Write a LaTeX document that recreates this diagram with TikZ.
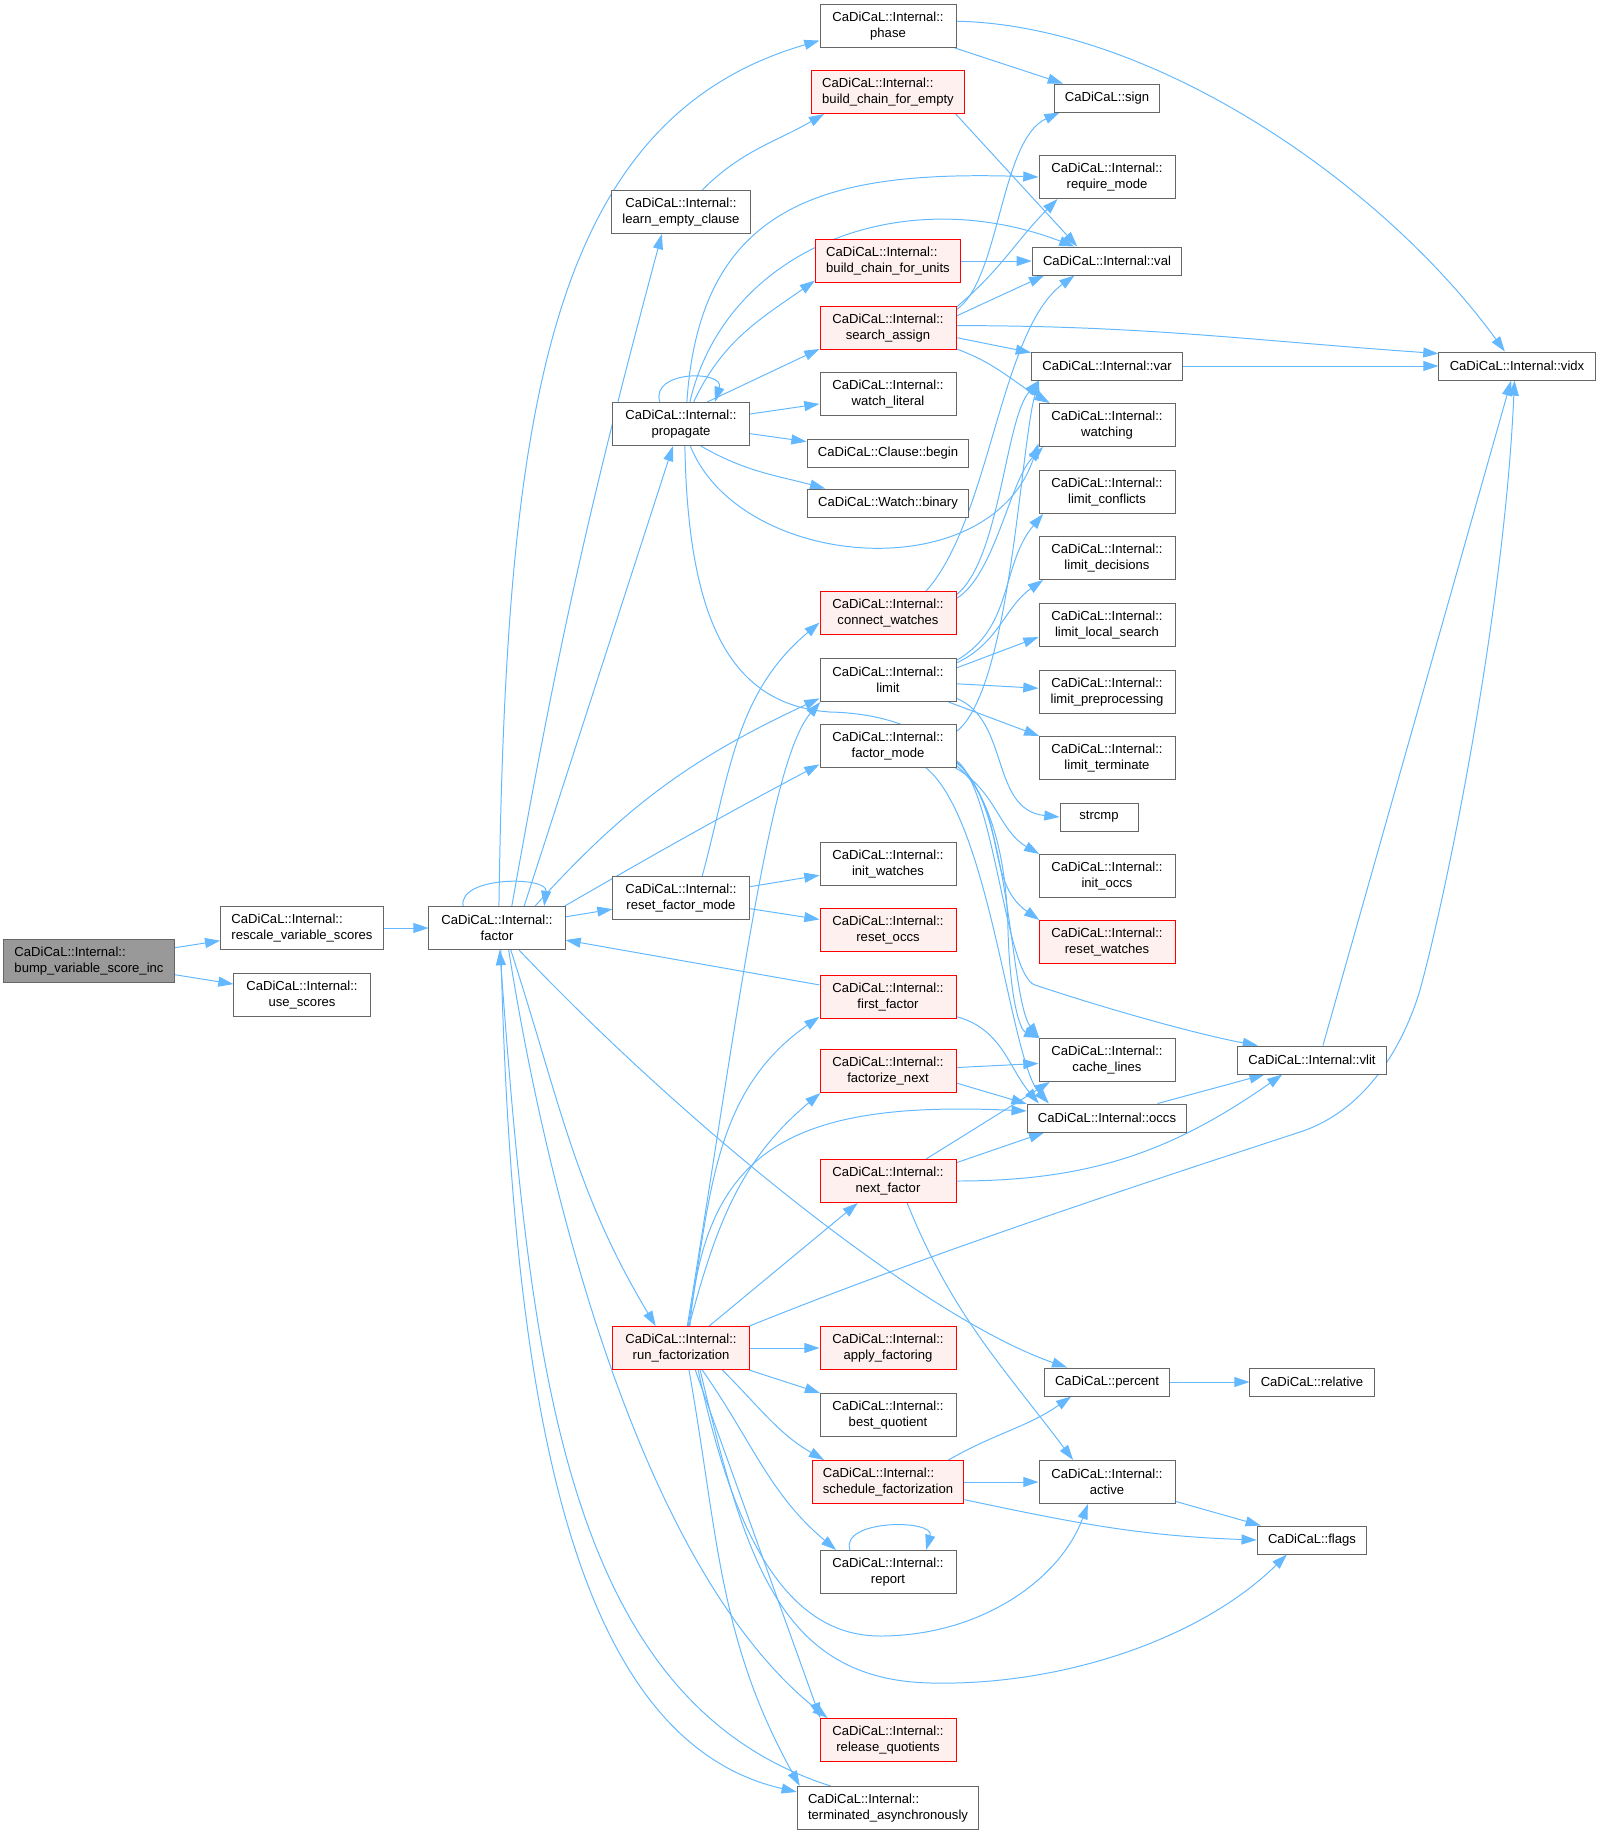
\documentclass[tikz,border=0pt]{standalone}
\usepackage{fontspec}
\setmainfont{Liberation Sans}
\usetikzlibrary{arrows.meta, backgrounds}
\definecolor{edgeBlue}{HTML}{63B8FF}
\definecolor{nodeGrey}{HTML}{666666}
\definecolor{nodeRed}{HTML}{FF0000}
\definecolor{nodeRedSoft}{HTML}{FFF0F0}
\definecolor{rootGrey}{HTML}{999999}

\begin{document}
\begin{tikzpicture}[
    x=0.025cm, y=0.025cm,
    fnBox/.style={draw=nodeGrey, line width=0.7pt, fill=white, rectangle, align=center, minimum width=3.4cm, minimum height=1.075cm, inner xsep=0.27cm, inner ysep=1pt, font=\fontsize{9.3}{11.4}\selectfont},
    fnLeft/.style={fnBox, align=left},
    fnRed/.style={fnBox, draw=nodeRed, fill=nodeRedSoft},
    fnRedLeft/.style={fnRed, align=left},
    fnOne/.style={fnBox, minimum width=0pt, minimum height=0.7cm},
    >={Triangle[length=0.38cm, width=0.25cm]},
    call/.style={draw=edgeBlue, line width=0.7pt, ->},
]
\useasboundingbox (0,0) rectangle (1600,-1835);
\node[fnLeft, fill=rootGrey] (bump)    at (89,-961)   {CaDiCaL::Internal::\\bump\_variable\_score\_inc};
\node[fnLeft]    (rescale)   at (302,-928)  {CaDiCaL::Internal::\\rescale\_variable\_scores};
\node[fnBox]     (usescores) at (302,-995)  {CaDiCaL::Internal::\\use\_scores};
\node[fnBox]     (factor)    at (497,-928)  {CaDiCaL::Internal::\\factor};
\node[fnBox]     (phase)     at (888,-26)   {CaDiCaL::Internal::\\phase};
\node[fnRedLeft] (bcfe)      at (888,-92)   {CaDiCaL::Internal::\\build\_chain\_for\_empty};
\node[fnBox]     (learn)     at (681,-212)  {CaDiCaL::Internal::\\learn\_empty\_clause};
\node[fnOne]     (sign)      at (1107,-98)  {CaDiCaL::sign};
\node[fnBox]     (reqmode)   at (1107,-177) {CaDiCaL::Internal::\\require\_mode};
\node[fnOne]     (val)       at (1107,-261) {CaDiCaL::Internal::val};
\node[fnRedLeft] (bcfu)      at (888,-261)  {CaDiCaL::Internal::\\build\_chain\_for\_units};
\node[fnRed]     (sassign)   at (888,-328)  {CaDiCaL::Internal::\\search\_assign};
\node[fnOne]     (vidx)      at (1517,-366) {CaDiCaL::Internal::vidx};
\node[fnOne]     (var)       at (1107,-366) {CaDiCaL::Internal::var};
\node[fnBox]     (propagate) at (681,-424)  {CaDiCaL::Internal::\\propagate};
\node[fnBox]     (watchlit)  at (888,-394)  {CaDiCaL::Internal::\\watch\_literal};
\node[fnBox]     (watching)  at (1107,-425) {CaDiCaL::Internal::\\watching};
\node[fnOne]     (clbegin)   at (888,-453)  {CaDiCaL::Clause::begin};
\node[fnOne]     (wbinary)   at (888,-503)  {CaDiCaL::Watch::binary};
\node[fnBox]     (limconf)   at (1107,-492) {CaDiCaL::Internal::\\limit\_conflicts};
\node[fnBox]     (limdec)    at (1107,-558) {CaDiCaL::Internal::\\limit\_decisions};
\node[fnRed]     (connw)     at (888,-613)  {CaDiCaL::Internal::\\connect\_watches};
\node[fnBox]     (limls)     at (1107,-625) {CaDiCaL::Internal::\\limit\_local\_search};
\node[fnBox]     (limit)     at (888,-680)  {CaDiCaL::Internal::\\limit};
\node[fnBox]     (limpre)    at (1107,-692) {CaDiCaL::Internal::\\limit\_preprocessing};
\node[fnBox]     (factmode)  at (888,-746)  {CaDiCaL::Internal::\\factor\_mode};
\node[fnBox]     (limterm)   at (1107,-758) {CaDiCaL::Internal::\\limit\_terminate};
\node[fnOne, minimum width=1.95cm] (strcmp) at (1099,-817) {strcmp};
\node[fnBox]     (initw)     at (888,-864)  {CaDiCaL::Internal::\\init\_watches};
\node[fnBox]     (initoccs)  at (1107,-876) {CaDiCaL::Internal::\\init\_occs};
\node[fnBox]     (resetfm)   at (681,-898)  {CaDiCaL::Internal::\\reset\_factor\_mode};
\node[fnRed]     (resetoccs) at (888,-930)  {CaDiCaL::Internal::\\reset\_occs};
\node[fnRed]     (resetw)    at (1107,-942) {CaDiCaL::Internal::\\reset\_watches};
\node[fnRed]     (firstf)    at (888,-997)  {CaDiCaL::Internal::\\first\_factor};
\node[fnBox]     (cachel)    at (1107,-1060) {CaDiCaL::Internal::\\cache\_lines};
\node[fnOne]     (vlit)      at (1312,-1060) {CaDiCaL::Internal::vlit};
\node[fnRed]     (factnext)  at (888,-1071) {CaDiCaL::Internal::\\factorize\_next};
\node[fnOne]     (occs)      at (1107,-1118) {CaDiCaL::Internal::occs};
\node[fnRed]     (nextf)     at (888,-1181) {CaDiCaL::Internal::\\next\_factor};
\node[fnRed]     (runfact)   at (681,-1348) {CaDiCaL::Internal::\\run\_factorization};
\node[fnRed]     (applyf)    at (888,-1348) {CaDiCaL::Internal::\\apply\_factoring};
\node[fnOne]     (percent)   at (1107,-1382) {CaDiCaL::percent};
\node[fnOne]     (relative)  at (1312,-1382) {CaDiCaL::relative};
\node[fnBox]     (bestq)     at (888,-1415) {CaDiCaL::Internal::\\best\_quotient};
\node[fnRedLeft] (schedf)    at (888,-1482) {CaDiCaL::Internal::\\schedule\_factorization};
\node[fnBox]     (active)    at (1107,-1482) {CaDiCaL::Internal::\\active};
\node[fnOne]     (flags)     at (1312,-1540) {CaDiCaL::flags};
\node[fnBox]     (report)    at (888,-1572) {CaDiCaL::Internal::\\report};
\node[fnRed]     (releaseq)  at (888,-1740) {CaDiCaL::Internal::\\release\_quotients};
\node[fnLeft]    (termasync) at (888,-1808) {CaDiCaL::Internal::\\terminated\_asynchronously};
\begin{scope}[on background layer]
\draw[call] (bump) -- (rescale);
\draw[call] (bump) -- (usescores);
\draw[call] (rescale) -- (factor);
\draw[call] (factor.147) .. controls (458,-876) and (548,-876) .. (factor.25);
\draw[call] (factor.85) .. controls (506,-420) and (545,-120) .. (phase.192);
\draw[call] (factor.56) to[out=80,in=-105] (learn.229);
\draw[call] (factor.39) -- (propagate.250);
\draw[call] (factor.30) to[out=48,in=205] (limit.195);
\draw[call] (factor.18) to[out=30,in=208] (factmode.195);
\draw[call] (factor) -- (resetfm);
\draw[call] (factor.-45) .. controls (700,-1140) and (930,-1320) .. (percent.160);
\draw[call] (factor.-58) to[out=-72,in=121] (runfact.139);
\draw[call] (factor.-62) .. controls (540,-1150) and (630,-1560) .. (releaseq.160);
\draw[call] (factor.-80) .. controls (512,-1400) and (570,-1740) .. (termasync.170);
\draw[call] (termasync.159) .. controls (560,-1700) and (530,-1350) .. (factor.-83);
\draw[call] (firstf) -- (factor);
\draw[call] (propagate.134) .. controls (650,-370) and (725,-370) .. (propagate.33);
\draw[call] (propagate.40) -- (sassign.197);
\draw[call] (propagate.60) to[out=65,in=215] (bcfu.195);
\draw[call] (propagate.75) .. controls (700,-200) and (830,-170) .. (reqmode.west);
\draw[call] (propagate.68) .. controls (725,-250) and (900,-180) .. (val.156);
\draw[call] (propagate) -- (watchlit);
\draw[call] (propagate) -- (clbegin);
\draw[call] (propagate.-48) to[out=-30,in=165] (wbinary.167);
\draw[call] (propagate.-67) .. controls (740,-570) and (990,-590) .. (watching.195);
\draw[call] (propagate.-80) .. controls (688,-620) and (730,-705) .. (830,-712)
    .. controls (960,-715) and (1005,-800) .. (1008,-930)
    .. controls (1010,-1000) and (1020,-1030) .. (cachel.162);
\draw[call] (sassign.15) .. controls (1000,-280) and (1000,-140) .. (sign.197);
\draw[call] (sassign.17) to[out=40,in=225] (reqmode.204);
\draw[call] (sassign.10) -- (val.193);
\draw[call] (sassign.2) to[out=0,in=176] (vidx.171);
\draw[call] (sassign.-8) -- (var.170);
\draw[call] (sassign.-17) to[out=-20,in=150] (watching.159);
\draw[call] (phase) -- (sign);
\draw[call] (phase.4) .. controls (1150,-25) and (1380,-180) .. (vidx.130);
\draw[call] (learn.46) to[out=45,in=210] (bcfe.199);
\draw[call] (bcfe.-18) -- (val.154);
\draw[call] (bcfu) -- (val);
\draw[call] (var) -- (vidx);
\draw[call] (vlit.53) -- (vidx.-112);
\draw[call] (runfact.north east) .. controls (950,-1245) and (1200,-1165) .. (1300,-1132)
    .. controls (1370,-1109) and (1405,-1040) .. (1420,-990)
    .. controls (1450,-880) and (1505,-600) .. (vidx.-100);
\draw[call] (resetfm.46) to[out=75,in=220] (connw.188);
\draw[call] (resetfm) -- (initw);
\draw[call] (resetfm) -- (resetoccs);
\draw[call] (connw.30) .. controls (990,-520) and (1000,-330) .. (val.204);
\draw[call] (connw.15) .. controls (1000,-560) and (1005,-420) .. (var.192);
\draw[call] (connw.12) .. controls (995,-575) and (1010,-480) .. (watching.199);
\draw[call] (factmode.12) .. controls (1010,-690) and (1020,-450) .. (var.192);
\draw[call] (limit.16) to[out=30,in=230] (limconf.199);
\draw[call] (limit.14) to[out=25,in=215] (limdec.199);
\draw[call] (limit.10) -- (limls.190);
\draw[call] (limit) -- (limpre);
\draw[call] (limit.-20) -- (limterm.162);
\draw[call] (limit.-15) .. controls (1010,-720) and (990,-810) .. (strcmp.west);
\draw[call] (factmode.-18) to[out=-30,in=150] (initoccs.162);
\draw[call] (factmode.-16) to[out=-40,in=145] (resetw.162);
\draw[call] (factmode.-14) .. controls (1010,-800) and (1010,-1000) .. (cachel.162);
\draw[call] (factmode.-30) .. controls (990,-820) and (1010,-1060) .. (occs.166);
\draw[call] (factmode.-12) .. controls (995,-790) and (1005,-975) .. (1035,-985)
    .. controls (1110,-1010) and (1200,-1035) .. (vlit.165);
\draw[call] (firstf.-16) to[out=-15,in=130] (occs.168);
\draw[call] (factnext) -- (cachel);
\draw[call] (factnext.-10) -- (occs.170);
\draw[call] (nextf.30) -- (cachel.201);
\draw[call] (nextf.15) -- (occs.193);
\draw[call] (nextf.east) to[out=0,in=215] (vlit.-154);
\draw[call] (nextf.-49) to[out=-68,in=127] (active.147);
\draw[call] (occs.16) -- (vlit.197);
\draw[call] (runfact.74) .. controls (740,-1000) and (770,-760) .. (limit.198);
\draw[call] (runfact.72) to[out=80,in=215] (firstf.196);
\draw[call] (runfact.70) to[out=75,in=220] (factnext.198);
\draw[call] (runfact.68) .. controls (705,-1150) and (790,-1100) .. (occs.175);
\draw[call] (runfact.38) -- (nextf.216);
\draw[call] (runfact) -- (applyf);
\draw[call] (runfact) -- (bestq);
\draw[call] (runfact.-28) to[out=-45,in=150] (schedf.161);
\draw[call] (runfact.-46) to[out=-55,in=140] (report.157);
\draw[call] (runfact.-57) -- (releaseq.162);
\draw[call] (runfact.-70) to[out=-80,in=119] (termasync.166);
\draw[call] (runfact.-52) .. controls (730,-1520) and (780,-1636) .. (880,-1636)
    .. controls (980,-1636) and (1060,-1580) .. (active.-131);
\draw[call] (runfact.-49) .. controls (745,-1560) and (780,-1680) .. (931,-1683)
    .. controls (1060,-1686) and (1200,-1640) .. (flags.-150);
\draw[call] (schedf.20) to[out=30,in=215] (percent.-158);
\draw[call] (schedf) -- (active);
\draw[call] (schedf.-13) to[out=-12,in=178] (flags.west);
\draw[call] (active) -- (flags);
\draw[call] (percent) -- (relative);
\draw[call] (report.150) .. controls (840,-1519) and (935,-1519) .. (report.30);
\end{scope}
\end{tikzpicture}
\end{document}
